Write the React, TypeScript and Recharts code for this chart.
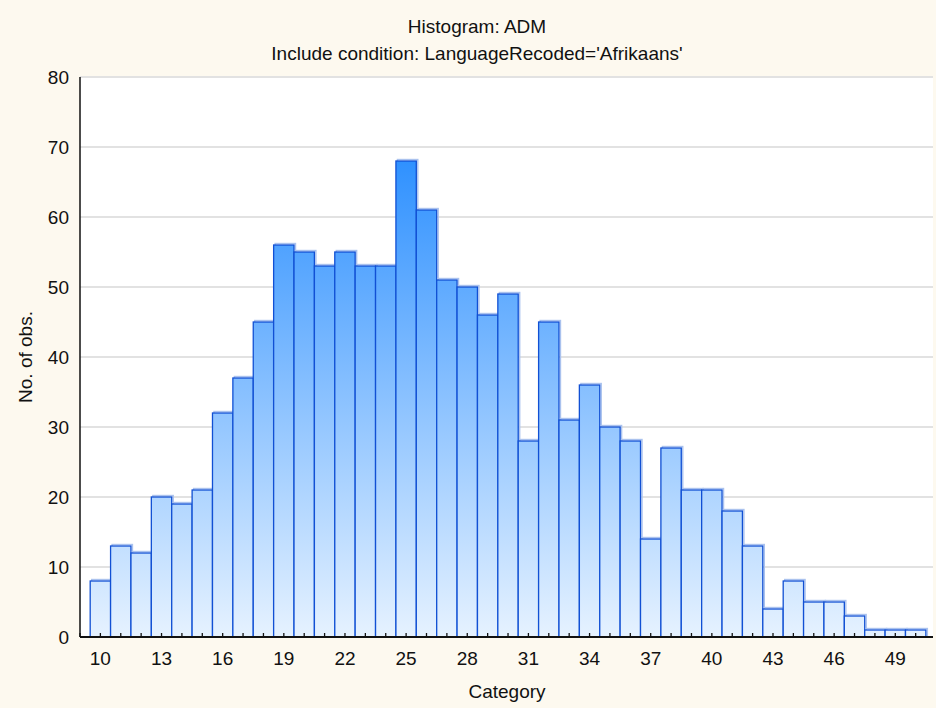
import { BarChart, Bar, XAxis, YAxis, CartesianGrid } from 'recharts'

const categories = [
  10, 11, 12, 13, 14, 15, 16, 17, 18, 19, 20, 21, 22, 23, 24, 25, 26, 27, 28, 29,
  30, 31, 32, 33, 34, 35, 36, 37, 38, 39, 40, 41, 42, 43, 44, 45, 46, 47, 48, 49, 50,
]
const counts = [
  8, 13, 12, 20, 19, 21, 32, 37, 45, 56, 55, 53, 55, 53, 53, 68, 61, 51, 50, 46,
  49, 28, 45, 31, 36, 30, 28, 14, 27, 21, 21, 18, 13, 4, 8, 5, 5, 3, 1, 1, 1,
]
const xLabelTicks = [10, 13, 16, 19, 22, 25, 28, 31, 34, 37, 40, 43, 46, 49]
const xMinorTicks = [9, ...categories]
const yTicks = [0, 10, 20, 30, 40, 50, 60, 70, 80]

const data = categories.map((c, i) => ({ x: c, n: counts[i] }))

const FONT = '"Liberation Sans", Arial, Helvetica, sans-serif'
const W = 936
const H = 708

function BottomTick({ x, y, payload }: any) {
  const v = payload.value
  const showLabel = xLabelTicks.includes(v)
  return (
    <g>
      <line x1={x} x2={x} y1={y} y2={y - 4} stroke="#111" strokeWidth={1.3} />
      {showLabel && (
        <text x={x} y={y + 28} textAnchor="middle" fontSize={19} fontFamily={FONT} fill="#111">
          {v}
        </text>
      )}
    </g>
  )
}

function TopTick({ x, y }: any) {
  return <line x1={x} x2={x} y1={y} y2={y + 4} stroke="#111" strokeWidth={1.3} />
}

function LeftTick({ x, y, payload }: any) {
  return (
    <text x={x} y={y + 7} textAnchor="end" fontSize={19} fontFamily={FONT} fill="#111">
      {payload.value}
    </text>
  )
}

function RightTick({ x, y }: any) {
  return <line x1={x} x2={x - 4} y1={y} y2={y} stroke="#111" strokeWidth={1.3} />
}

function HistBar(props: any) {
  const { x, y, width, height } = props
  if (!height || height <= 0) return null
  return (
    <g>
      <rect
        x={x + 1.5}
        y={y - 1.5}
        width={width}
        height={height + 1.5}
        fill="none"
        stroke="#aac2ee"
        strokeWidth={1.4}
      />
      <rect x={x} y={y} width={width} height={height} fill="url(#histGrad)" stroke="#1150d4" strokeWidth={1.3} />
    </g>
  )
}

export default function App() {
  return (
    <div
      style={{
        position: 'absolute',
        left: 0,
        top: 0,
        width: W,
        height: H,
        background: '#fdf9ef',
        fontFamily: FONT,
      }}
    >
      <BarChart
        width={W}
        height={H}
        data={data}
        margin={{ top: 77, right: 3, bottom: 0, left: 0 }}
        barCategoryGap={0}
      >
        <defs>
          <linearGradient id="histGrad" gradientUnits="userSpaceOnUse" x1="0" y1="77" x2="0" y2="637">
            <stop offset="0%" stopColor="#0f80ff" />
            <stop offset="100%" stopColor="#e6f2ff" />
          </linearGradient>
        </defs>
        <CartesianGrid vertical={false} stroke="#e2e2e2" strokeWidth={2} fill="#ffffff" />
        <XAxis
          dataKey="x"
          type="number"
          domain={[9, 50.85]}
          allowDataOverflow
          ticks={xMinorTicks}
          interval={0}
          height={71}
          tickSize={0}
          tickMargin={0}
          tick={<BottomTick />}
          axisLine={{ stroke: '#111', strokeWidth: 2 }}
        />
        <XAxis
          xAxisId="top"
          orientation="top"
          type="number"
          domain={[9, 50.85]}
          allowDataOverflow
          ticks={xMinorTicks}
          interval={0}
          height={0}
          tickSize={0}
          tickMargin={0}
          tick={<TopTick />}
          axisLine={{ stroke: '#111', strokeWidth: 1.5 }}
        />
        <YAxis
          domain={[0, 80]}
          ticks={yTicks}
          interval={0}
          width={80}
          tickSize={0}
          tickMargin={11}
          tick={<LeftTick />}
          axisLine={{ stroke: '#111', strokeWidth: 1.5 }}
        />
        <YAxis
          yAxisId="r"
          orientation="right"
          domain={[0, 80]}
          ticks={yTicks}
          interval={0}
          width={0}
          tickSize={0}
          tickMargin={0}
          tick={<RightTick />}
          axisLine={{ stroke: '#111', strokeWidth: 1.5 }}
        />
        <Bar dataKey="n" barSize={20.38} shape={<HistBar />} isAnimationActive={false} />
      </BarChart>
      <svg
        width={W}
        height={H}
        style={{ position: 'absolute', left: 0, top: 0, pointerEvents: 'none' }}
      >
        <g fontFamily={FONT} fontSize={19} fill="#111">
          <text x={477} y={33} textAnchor="middle">
            Histogram: ADM
          </text>
          <text x={477} y={60} textAnchor="middle">
            Include condition: LanguageRecoded='Afrikaans'
          </text>
          <text x={507} y={698} textAnchor="middle">
            Category
          </text>
          <text transform="translate(31.5,357) rotate(-90)" textAnchor="middle">
            No. of obs.
          </text>
        </g>
      </svg>
    </div>
  )
}
